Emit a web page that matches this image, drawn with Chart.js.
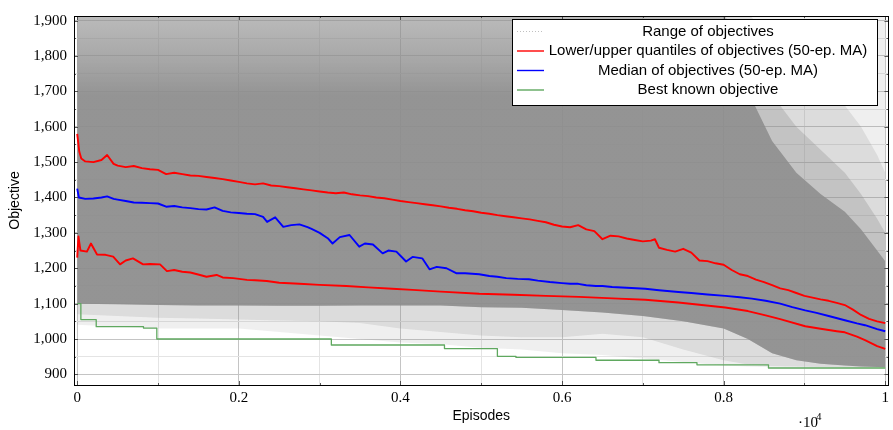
<!DOCTYPE html>
<html>
<head>
<meta charset="utf-8">
<script src="https://cdn.jsdelivr.net/npm/chart.js@4.4.1/dist/chart.umd.min.js"></script>
<style>
  html, body { margin: 0; padding: 0; background: #fff; }
  #wrap { width: 893px; height: 430px; }
</style>
</head>
<body>
<div id="wrap"><canvas id="c" width="893" height="430"></canvas></div>
<script>
'use strict';

// upper quantile (50-ep. MA)
var upperEp = [0,25,50,100,200,300,370,450,500,600,700,800,900,1000,1100,1200,1300,1400,1500,1600,1700,1800,1900,2000,2100,2200,2300,2400,2500,2600,2700,2800,2900,3000,3100,3200,3300,3400,3500,3600,3700,3800,3900,4000,4100,4200,4300,4400,4500,4600,4700,4800,4900,5000,5100,5200,5300,5400,5500,5600,5700,5800,5900,6000,6100,6200,6300,6400,6500,6600,6700,6800,6900,7000,7100,7150,7200,7300,7400,7500,7600,7700,7800,7900,8000,8100,8200,8300,8400,8500,8600,8700,8800,8900,9000,9100,9200,9300,9400,9500,9600,9700,9800,9900,10000];
var upperVal = [1580,1530,1510,1502,1500,1506,1520,1495,1490,1486,1489,1483,1480,1478,1466,1470,1466,1462,1461,1458,1455,1452,1448,1444,1440,1437,1440,1434,1432,1429,1426,1423,1420,1417,1414,1412,1414,1409,1406,1404,1400,1398,1394,1390,1387,1384,1381,1378,1375,1371,1368,1364,1361,1357,1354,1350,1347,1344,1341,1338,1334,1330,1323,1318,1316,1322,1310,1305,1282,1292,1290,1284,1280,1276,1278,1282,1258,1252,1247,1255,1244,1222,1220,1214,1210,1195,1183,1178,1168,1161,1152,1143,1138,1130,1122,1117,1112,1108,1102,1096,1083,1068,1057,1050,1045];

// median (50-ep. MA)
var medianEp = [0,20,100,200,300,370,450,500,600,700,800,900,1000,1100,1200,1300,1400,1500,1600,1700,1800,1900,2000,2100,2200,2300,2350,2450,2550,2650,2750,2850,2900,3000,3100,3160,3250,3370,3490,3560,3660,3780,3850,3950,4070,4150,4270,4360,4450,4570,4690,4800,4975,5100,5200,5310,5450,5590,5700,5850,6000,6100,6200,6300,6420,6500,6620,6800,7030,7200,7440,7600,7800,8020,8200,8350,8520,8700,8850,9010,9150,9300,9500,9650,9750,9900,10000];
var medianVal = [1425,1400,1396,1397,1400,1403,1396,1394,1390,1386,1385,1384,1383,1374,1376,1372,1370,1367,1366,1372,1362,1358,1356,1354,1353,1345,1331,1344,1317,1322,1324,1316,1311,1300,1285,1270,1288,1294,1261,1270,1267,1242,1250,1247,1219,1232,1228,1197,1204,1200,1186,1186,1183,1178,1176,1172,1170,1169,1165,1161,1158,1156,1156,1152,1150,1150,1147,1145,1142,1138,1133,1130,1126,1122,1118,1114,1108,1100,1090,1081,1074,1065,1053,1044,1039,1028,1022];

// lower quantile (50-ep. MA)
var lowerEp = [0,15,40,120,170,245,350,445,530,600,690,815,900,1025,1110,1200,1300,1400,1520,1600,1725,1800,1930,2100,2200,2345,2500,2750,3000,3330,3600,3900,4150,4500,4975,5400,5800,6210,6420,6700,7030,7440,7700,8020,8300,8520,8700,9010,9200,9400,9500,9650,9750,9900,10000];
var lowerVal = [1230,1290,1250,1247,1270,1239,1238,1233,1211,1222,1228,1211,1212,1211,1192,1195,1190,1188,1181,1176,1181,1174,1172,1167,1166,1164,1159,1156,1153,1150,1146,1142,1139,1134,1128,1125,1122,1119,1117,1114,1111,1103,1097,1089,1079,1067,1056,1036,1029,1022,1019,1007,997,980,972];

// best known objective (steps)
var bestEp = [0,45,235,820,985,3145,4545,5200,5430,6420,7200,7670,8555,10000];
var bestVal = [1100,1055,1035,1031,1000,983,973,951,948,940,933,927,918,918];

// range of objectives: outer envelope, sparse part, fading edge and dense core
var rangeEp = [0,500,1000,1500,2000,2500,3000,3500,4000,4500,5000,5500,6000,6500,7000,7500,8000,8300,8600,8900,9200,9500,9700,9900,10000];
var rangeMax = [1920,1920,1920,1920,1920,1920,1920,1920,1920,1920,1920,1920,1920,1920,1920,1920,1920,1920,1920,1920,1920,1920,1920,1920,1920];
var rangeMin = [1040,1035,1030,1030,1030,1020,1010,1000,990,985,975,970,960,955,945,935,925,922,920,920,920,920,920,920,920];
var sparseMax = [1920,1920,1920,1920,1920,1920,1920,1920,1920,1920,1920,1920,1920,1920,1920,1920,1920,1920,1850,1780,1720,1660,1600,1520,1470];
var sparseMin = [1070,1065,1060,1058,1055,1052,1050,1045,1030,1020,1010,1005,1005,1015,1005,970,940,928,924,922,921,920,920,920,920];
var fadeMax = [1920,1920,1920,1920,1920,1920,1920,1920,1920,1920,1920,1920,1920,1920,1920,1920,1920,1800,1690,1600,1535,1470,1410,1340,1300];
var coreMax = [1920,1920,1920,1920,1920,1920,1920,1920,1920,1920,1920,1920,1920,1920,1920,1920,1920,1700,1560,1470,1410,1360,1310,1250,1220];
var coreMin = [1100,1098,1096,1095,1095,1094,1094,1095,1095,1095,1090,1088,1082,1075,1065,1050,1030,1000,960,940,930,925,922,921,920];

var yTicks = [900,1000,1100,1200,1300,1400,1500,1600,1700,1800,1900];
var xTicks = [0,2000,4000,6000,8000,10000];

var legendLabels = ['Range of objectives', 'Lower/upper quantiles of objectives (50-ep. MA)', 'Median of objectives (50-ep. MA)', 'Best known objective'];

function pts(xs, ys) {
  return xs.map(function (x, i) { return { x: x, y: ys[i] }; });
}

function band(data, color, fill, order) {
  return { data: data, borderWidth: 0, pointRadius: 0, backgroundColor: color, fill: fill, order: order, tension: 0 };
}

// dense part fades out towards the top of the plot
function coreFill(context) {
  var chart = context.chart;
  if (!chart.chartArea) return 'rgba(140,140,140,0.85)';
  var y = chart.scales.y;
  var g = chart.ctx.createLinearGradient(0, y.getPixelForValue(1913), 0, y.getPixelForValue(1690));
  g.addColorStop(0, 'rgba(140,140,140,0.15)');
  g.addColorStop(0.55, 'rgba(140,140,140,0.5)');
  g.addColorStop(1, 'rgba(140,140,140,0.85)');
  return g;
}

var serif = '"Liberation Serif", "DejaVu Serif", serif';
var sans = '"Liberation Sans", "DejaVu Sans", sans-serif';

var frame = {
  id: 'frame',
  afterDraw: function (chart) {
    var ctx = chart.ctx, a = chart.chartArea;
    var xs = chart.scales.x, ys = chart.scales.y;
    ctx.save();
    // inner ticks on all four sides
    ctx.strokeStyle = '#333';
    ctx.lineWidth = 0.8;
    for (var v = 900; v <= 1900; v += 50) {
      var py = Math.round(ys.getPixelForValue(v)) + 0.5;
      var len = v % 100 === 0 ? 4 : 2;
      ctx.beginPath();
      ctx.moveTo(a.left, py); ctx.lineTo(a.left + len, py);
      ctx.moveTo(a.right, py); ctx.lineTo(a.right - len, py);
      ctx.stroke();
    }
    for (var e = 0; e <= 10000; e += 1000) {
      var px = Math.round(xs.getPixelForValue(e)) + 0.5;
      var l2 = e % 2000 === 0 ? 4 : 2;
      ctx.beginPath();
      ctx.moveTo(px, a.bottom); ctx.lineTo(px, a.bottom - l2);
      ctx.moveTo(px, a.top); ctx.lineTo(px, a.top + l2);
      ctx.stroke();
    }
    // axis box
    ctx.strokeStyle = '#000';
    ctx.lineWidth = 1;
    ctx.strokeRect(Math.round(a.left) + 0.5, Math.round(a.top) + 0.5, Math.round(a.right - a.left), Math.round(a.bottom - a.top));

    // legend
    var bx = 512, by = 19, bw = 365, bh = 86;
    ctx.fillStyle = '#fff';
    ctx.fillRect(bx, by, bw, bh);
    ctx.strokeRect(bx + 0.5, by + 0.5, bw, bh);
    var rows = [31.5, 51, 70.5, 90];
    var styles = [
      { c: 'rgba(150,150,150,0.6)', dash: [1, 2], w: 1 },
      { c: '#ff0000', dash: [], w: 1.4 },
      { c: '#0000ff', dash: [], w: 1.4 },
      { c: '#5fa85f', dash: [], w: 1.4 }
    ];
    ctx.font = '15px ' + sans;
    ctx.textAlign = 'center';
    ctx.textBaseline = 'middle';
    for (var i = 0; i < legendLabels.length; i++) {
      var s = styles[i];
      ctx.beginPath();
      ctx.setLineDash(s.dash);
      ctx.strokeStyle = s.c;
      ctx.lineWidth = s.w;
      ctx.moveTo(517, rows[i]); ctx.lineTo(544, rows[i]);
      ctx.stroke();
      ctx.setLineDash([]);
      ctx.fillStyle = '#000';
      ctx.fillText(legendLabels[i], 708, rows[i]);
    }

    // axis multiplier
    ctx.textAlign = 'left';
    ctx.textBaseline = 'alphabetic';
    ctx.font = '15px ' + serif;
    ctx.fillText('\u00b710', 798, 427);
    ctx.font = '11px ' + serif;
    ctx.fillText('4', 816, 420);
    ctx.restore();
  }
};

var gridColor = function (c) {
  return c.tick && c.tick.major ? '#c4c4c4' : '#e4e4e4';
};

new Chart(document.getElementById('c'), {
  type: 'line',
  data: {
    datasets: [
      { data: pts(bestEp, bestVal), borderColor: '#5fa85f', borderWidth: 1.3, pointRadius: 0, stepped: 'before', fill: false, order: 0 },
      { data: pts(medianEp, medianVal), borderColor: '#0000ff', borderWidth: 1.9, pointRadius: 0, fill: false, order: 1 },
      { data: pts(upperEp, upperVal), borderColor: '#ff0000', borderWidth: 1.9, pointRadius: 0, fill: false, order: 2 },
      { data: pts(lowerEp, lowerVal), borderColor: '#ff0000', borderWidth: 1.9, pointRadius: 0, fill: false, order: 3 },
      band(pts(rangeEp, coreMax), coreFill, '+1', 10),
      band(pts(rangeEp, coreMin), 'transparent', false, 10),
      band(pts(rangeEp, fadeMax), 'rgba(140,140,140,0.3)', '+1', 11),
      band(pts(rangeEp, coreMin), 'transparent', false, 11),
      band(pts(rangeEp, sparseMax), 'rgba(140,140,140,0.2)', '+1', 12),
      band(pts(rangeEp, sparseMin), 'transparent', false, 12),
      band(pts(rangeEp, rangeMax), 'rgba(140,140,140,0.14)', '+1', 13),
      band(pts(rangeEp, rangeMin), 'transparent', false, 13)
    ]
  },
  options: {
    responsive: false,
    animation: false,
    layout: { padding: { top: 11, right: 4, left: 0, bottom: 0 } },
    plugins: { legend: { display: false }, tooltip: { enabled: false } },
    elements: { line: { borderJoinStyle: 'round' } },
    scales: {
      x: {
        type: 'linear',
        min: -40,
        max: 10040,
        afterFit: function (s) { s.height = 45; },
        afterBuildTicks: function (s) {
          var t = [];
          for (var e = 0; e <= 10000; e += 1000) t.push({ value: e, major: e % 2000 === 0 });
          s.ticks = t;
        },
        ticks: {
          autoSkip: false,
          maxRotation: 0,
          padding: 4,
          color: '#000',
          font: { family: serif, size: 15 },
          callback: function (v) {
            return xTicks.indexOf(v) >= 0 ? String(v / 10000) : '';
          }
        },
        grid: { drawTicks: false, color: gridColor, lineWidth: 1 },
        border: { display: false },
        title: { display: true, text: 'Episodes', color: '#000', font: { family: sans, size: 14 }, padding: { top: 0, bottom: 5 } }
      },
      y: {
        min: 870,
        max: 1913,
        afterFit: function (s) { s.width = 74; },
        afterBuildTicks: function (s) {
          var t = [];
          for (var v = 900; v <= 1900; v += 50) t.push({ value: v, major: v % 100 === 0 });
          s.ticks = t;
        },
        ticks: {
          autoSkip: false,
          padding: 7,
          color: '#000',
          font: { family: serif, size: 15 },
          callback: function (v) {
            return yTicks.indexOf(v) >= 0 ? v.toLocaleString('en-US') : '';
          }
        },
        grid: { drawTicks: false, color: gridColor, lineWidth: 1 },
        border: { display: false },
        title: { display: true, text: 'Objective', color: '#000', font: { family: sans, size: 14 }, padding: { top: 7, bottom: 0 } }
      }
    }
  },
  plugins: [frame]
});
</script>
</body>
</html>
